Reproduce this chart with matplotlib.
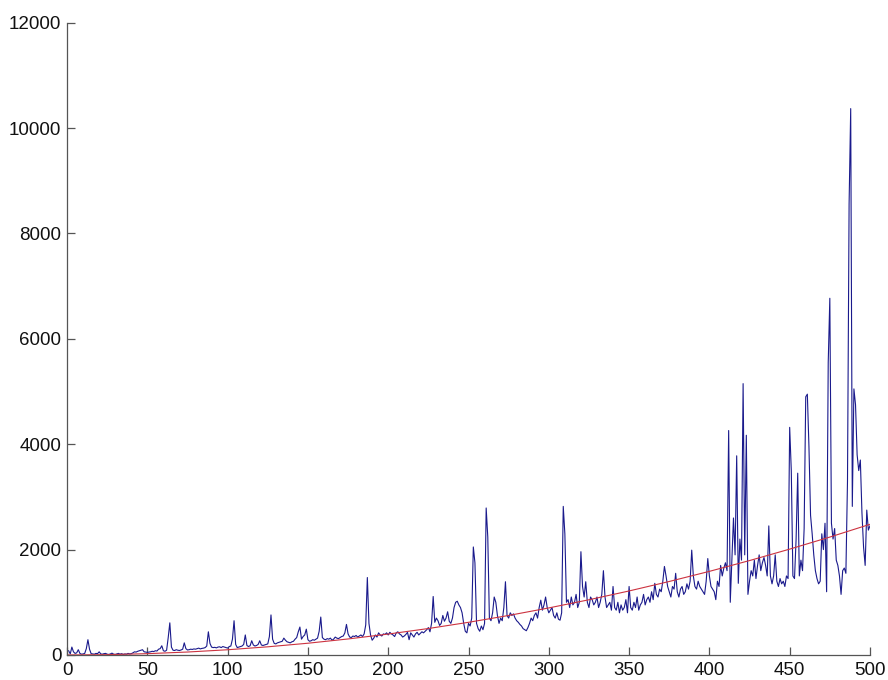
import matplotlib
matplotlib.use("Agg")
import matplotlib.pyplot as plt
import numpy as np

# Blue series: values for x = 1..500
series_values = [
    80, 20, 150, 60, 30, 40, 100, 30, 15, 20,
    30, 120, 290, 110, 25, 20, 15, 30, 25, 60,
    20, 15, 25, 30, 15, 10, 20, 35, 15, 10,
    20, 30, 15, 25, 10, 20, 15, 30, 20, 25,
    40, 60, 55, 70, 80, 90, 100, 60, 55, 50,
    55, 60, 70, 65, 80, 75, 110, 120, 175, 80,
    70, 90, 330, 610, 150, 90, 85, 100, 90, 85,
    95, 110, 230, 120, 95, 100, 110, 105, 115, 110,
    120, 130, 115, 125, 130, 140, 170, 440, 220, 150,
    140, 145, 135, 150, 155, 140, 160, 150, 140, 130,
    160, 170, 300, 650, 200, 140, 150, 160, 170, 200,
    380, 180, 160, 175, 270, 190, 170, 180, 200, 270,
    190, 180, 190, 200, 210, 350, 760, 300, 220, 210,
    230, 240, 250, 260, 320, 280, 250, 240, 230, 250,
    260, 300, 330, 440, 530, 300, 350, 380, 490, 290,
    260, 270, 290, 280, 300, 320, 450, 720, 330, 300,
    290, 310, 300, 320, 280, 300, 340, 320, 310, 330,
    350, 360, 420, 580, 400, 340, 330, 360, 350, 370,
    340, 360, 380, 350, 400, 570, 1470, 600, 380, 280,
    320, 380, 340, 420, 380, 360, 400, 390, 420, 380,
    430, 400, 380, 350, 420, 440, 400, 380, 340, 360,
    390, 430, 290, 420, 380, 340, 400, 430, 380, 410,
    440, 420, 450, 480, 520, 440, 600, 1110, 620, 700,
    650, 560, 600, 750, 640, 700, 820, 640, 600, 700,
    900, 1000, 1020, 950, 900, 800, 600, 450, 420, 600,
    550, 700, 2050, 1750, 600, 500, 450, 550, 480, 600,
    2790, 2240, 700, 650, 800, 1100, 1000, 750, 600, 700,
    650, 900, 1390, 750, 700, 800, 750, 780, 700, 650,
    620, 580, 550, 500, 480, 460, 520, 600, 700, 650,
    750, 800, 700, 900, 1040, 850, 950, 1100, 900, 800,
    850, 900, 750, 700, 800, 680, 660, 800, 2820, 2300,
    1000, 1050, 900, 1100, 950, 1000, 1150, 900, 1000, 1960,
    1300, 1100, 1390, 1000, 900, 1100, 1050, 950, 1000, 1100,
    900, 1000, 1150, 1600, 1100, 900, 950, 1000, 850, 1300,
    900, 850, 1000, 800, 950, 850, 900, 1050, 800, 1300,
    900, 850, 1000, 900, 1100, 850, 950, 1000, 1150, 950,
    1050, 1100, 1000, 1200, 1050, 1360, 1150, 1100, 1250, 1200,
    1400, 1680, 1500, 1300, 1200, 1100, 1300, 1250, 1550, 1200,
    1100, 1250, 1300, 1150, 1200, 1350, 1250, 1400, 1990, 1500,
    1300, 1250, 1400, 1300, 1250, 1200, 1150, 1400, 1830, 1500,
    1300, 1250, 1200, 1050, 1400, 1300, 1700, 1500, 1650, 1750,
    1600, 4260, 1000, 1800, 2600, 1900, 3780, 1360, 2200, 1800,
    5150, 1900, 4170, 1150, 1400, 1600, 1500, 1800, 1450, 1700,
    1900, 1600, 1750, 1850, 1700, 1500, 2450, 1500, 1350, 1500,
    1900, 1400, 1300, 1450, 1350, 1400, 1300, 1500, 1450, 4320,
    3500, 1500, 1450, 2200, 3450, 1500, 1800, 1600, 2400, 4900,
    4950, 3950, 2650, 2300, 1900, 1600, 1450, 1350, 1400, 2300,
    2000, 2500, 1200, 5550, 6770, 2500, 2200, 2400, 1800, 1700,
    1500, 1150, 1600, 1650, 1550, 3300, 8560, 10370, 2820, 5050,
    4750, 3800, 3500, 3700, 2700, 2050, 1700, 2750, 2370, 2450,
]
series_x = list(range(1, len(series_values) + 1))

# Red trend curve, read at every 25 units
trend_x = [0, 25, 50, 75, 100, 125, 150, 175, 200, 225, 250,
           275, 300, 325, 350, 375, 400, 425, 450, 475, 500]
trend_values = [0, 6, 25, 56, 99, 155, 223, 304, 397, 502, 620,
                750, 893, 1048, 1215, 1395, 1587, 1792, 2009, 2238, 2480]

x_ticks = [0, 50, 100, 150, 200, 250, 300, 350, 400, 450, 500]
y_ticks = [0, 2000, 4000, 6000, 8000, 10000, 12000]

fig = plt.figure(figsize=(8.88, 6.8), dpi=100)
ax = fig.add_axes([0.0755, 0.0368, 0.9042, 0.9298])

ax.plot(series_x, series_values, color=(0.1, 0.1, 0.55), linewidth=0.8)
ax.plot(trend_x, trend_values, color=(0.8, 0.2, 0.25), linewidth=0.8)

ax.set_xlim(0, 500)
ax.set_ylim(0, 12000)
ax.set_xticks(x_ticks)
ax.set_yticks(y_ticks)
ax.set_xticklabels([str(v) for v in x_ticks])
ax.set_yticklabels([str(v) for v in y_ticks])

for side in ("top", "right"):
    ax.spines[side].set_visible(False)
for side in ("left", "bottom"):
    ax.spines[side].set_color("#555555")
    ax.spines[side].set_linewidth(0.9)

ax.tick_params(direction="in", length=6, width=0.9, color="#555555",
               labelsize=13.5, labelcolor="#111111")
ax.tick_params(axis="x", pad=5)
ax.tick_params(axis="y", pad=4)
for lab in ax.get_xticklabels() + ax.get_yticklabels():
    lab.set_family("Liberation Sans")

fig.savefig("out.png", dpi=100)
